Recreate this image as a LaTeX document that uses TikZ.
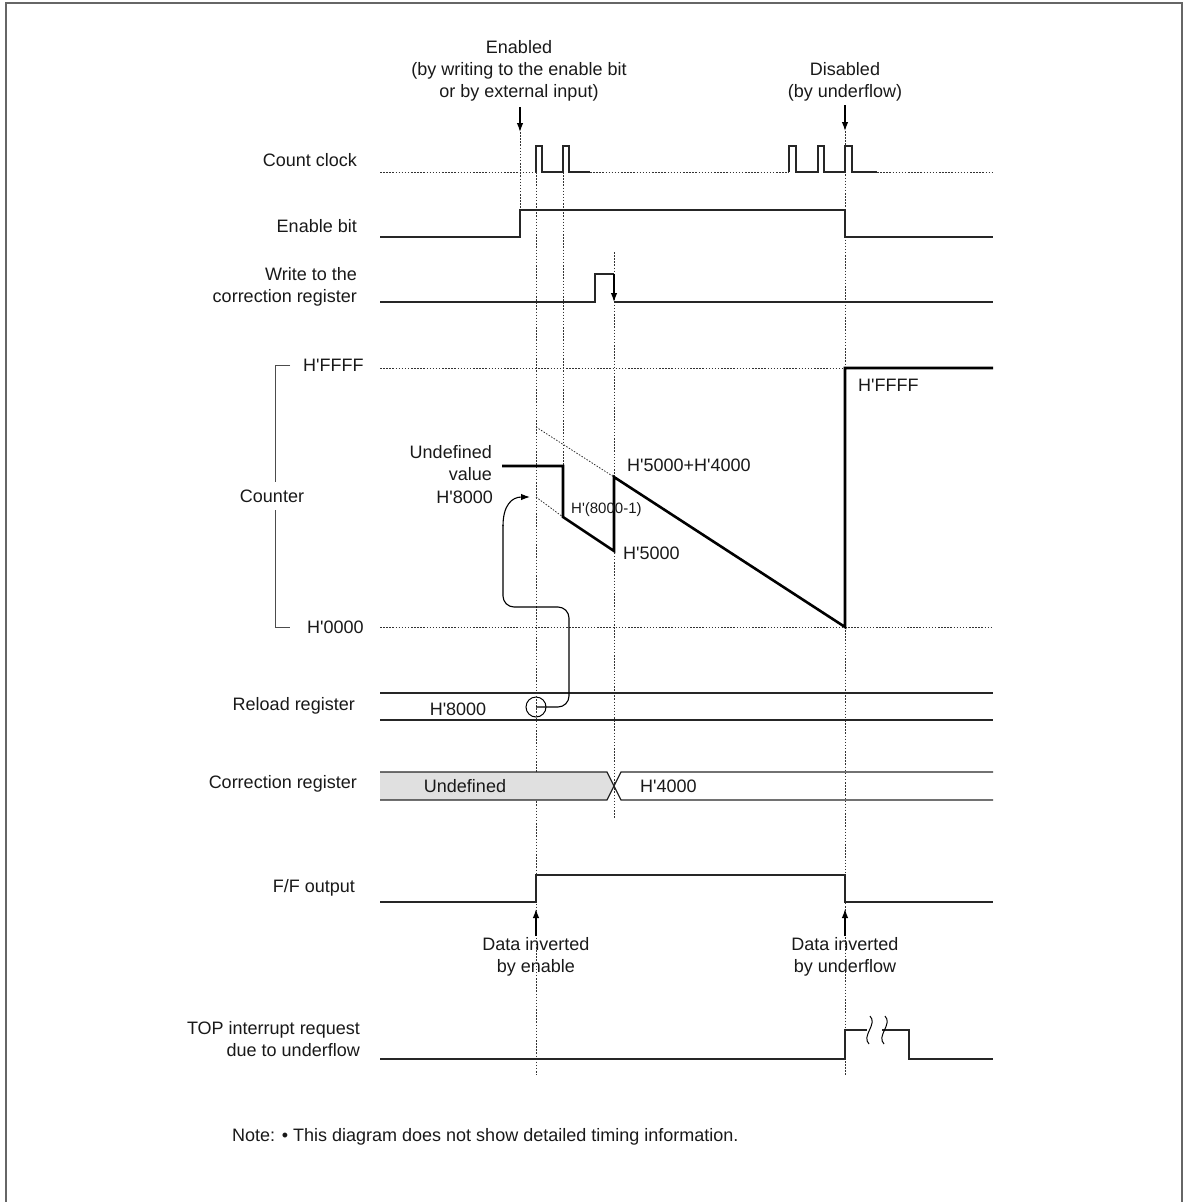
\documentclass[tikz,border=0pt]{standalone}
\usepackage{fontspec}
\setmainfont{Liberation Sans}[Ligatures=TeXOff]
\usetikzlibrary{arrows.meta}
\begin{document}
\begin{tikzpicture}[x=1pt,y=-1pt,
  sig/.style={line width=1.3pt, black!85},
  cnt/.style={line width=2.6pt, black, line join=miter},
  dotl/.style={line width=0.9pt, dash pattern=on 1.5pt off 1.6pt, black!80},
  lbl/.style={font=\fontsize{18}{22}\selectfont, anchor=east, align=right, inner sep=0pt, text=black!90},
  txt/.style={font=\fontsize{18}{22}\selectfont, align=center, inner sep=0pt, text=black!90},
  arr/.style={line width=1.2pt, black, -{Latex[length=9pt,width=6.5pt]}},
  ]
\useasboundingbox (0,0) rectangle (1185,1202);
% frame
\draw[line width=2pt, black!60] (6,1215) -- (6,3) -- (1182,3) -- (1182,1215);

% ---- labels on the left
\node[lbl] (lclk) at (357,160) {Count clock};
\node[lbl] (len) at (357,226) {Enable bit};
\node[lbl] (lwr) at (357,287) {Write to the\\correction register};
\node[lbl] (lrel) at (355,706) {Reload register};
\node[lbl] (lcor) at (357,784) {Correction register};
\node[lbl] (lff) at (355,888) {F/F output};
\node[lbl] (ltop) at (360,1039) {TOP interrupt request\\due to underflow};

% ---- top annotations
\node[txt] (nen) at (519,71) {Enabled\\(by writing to the enable bit\\or by external input)};
\node[txt] (ndis) at (845,81.5) {Disabled\\(by underflow)};
\coordinate (enA) at (520,107);
\coordinate (enB) at (520,132);
\coordinate (diA) at (845,105);
\coordinate (diB) at (845,131);
\draw[arr] (enA) -- (enB);
\draw[arr] (diA) -- (diB);

% ---- vertical dotted guide lines
\draw[dotl] (520,132) -- (520,210);
\draw[dotl] (536,172) -- (536,1075);
\draw[dotl] (563,172) -- (563,466);
\draw[dotl] (614,252) -- (614,818);
\draw[dotl] (845,131) -- (845,1075);

% ---- count clock
\draw[dotl] (380,172) -- (536,172);
\draw[sig] (536,172) -- (536,146) -- (542,146) -- (542,172) -- (563,172) -- (563,146) -- (569,146) -- (569,172) -- (590,172);
\draw[dotl] (590,172) -- (789,172);
\draw[sig] (789,172) -- (789,146) -- (796,146) -- (796,172) -- (818,172) -- (818,146) -- (824,146) -- (824,172) -- (845,172) -- (845,146) -- (852,146) -- (852,172) -- (877,172);
\draw[dotl] (877,172) -- (993,172);

% ---- enable bit
\draw[sig] (380,237) -- (520,237) -- (520,210) -- (845,210) -- (845,237) -- (993,237);

% ---- write to correction register
\draw[sig] (380,302) -- (595,302) -- (595,274) -- (614,274);
\coordinate (wrA) at (614,274);
\coordinate (wrB) at (614,302);
\draw[arr] (wrA) -- (wrB);
\draw[sig] (614,302) -- (993,302);

% ---- counter
\draw[dotl] (380,368) -- (845,368);
\draw[dotl] (380,627) -- (993,627);
\draw[line width=1pt, black!70] (290,365) -- (275,365) -- (275,482);
\draw[line width=1pt, black!70] (275,510) -- (275,627) -- (290,627);
\node[txt, anchor=west] (hff) at (303,365) {H'FFFF};
\node[txt, anchor=west] (h00) at (307,627) {H'0000};
\node[txt] (lcnt) at (272,496) {Counter};
\draw[line width=0.8pt, dash pattern=on 1.5pt off 1.5pt, black!80] (536,427) -- (614,477);
\draw[line width=0.8pt, dash pattern=on 1.5pt off 1.5pt, black!80] (536,497) -- (563,517);
\draw[cnt] (502,466) -- (563,466) -- (563,517) -- (614,551) -- (614,477) -- (845,627) -- (845,368) -- (993,368);
\node[txt, anchor=east, align=right] (nund) at (492,463) {Undefined\\value};
\node[txt, anchor=east] (n8000) at (493,497) {H'8000};
\node[txt, anchor=west] (nsum) at (627,465) {H'5000+H'4000};
\node[txt, anchor=west, font=\fontsize{15}{18}\selectfont] (nm1) at (571,510) {H'(8000-1)};
\node[txt, anchor=west] (n5000) at (623,553) {H'5000};
\node[txt, anchor=west] (nff2) at (858,385) {H'FFFF};

% ---- reload register
\draw[sig] (380,693) -- (993,693);
\draw[sig] (380,720) -- (993,720);
\node[txt] (r8000) at (458,709) {H'8000};
\node[draw, circle, line width=1pt, minimum size=20pt, inner sep=0pt] (rc) at (536,707) {};
\draw[line width=1.1pt, black, rounded corners=11pt] (rc.center) -- (569,707) -- (569,607) -- (503,607) -- (503,525);
\draw[line width=1.1pt, black, -{Latex[length=9pt,width=6.5pt]}] (503,526) .. controls (503,505) and (512,497) .. (530,497);

% ---- correction register
\fill[black!12] (380,772) -- (607,772) -- (614,786) -- (607,800) -- (380,800) -- cycle;
\draw[sig] (380,772) -- (607,772) -- (621,800) -- (993,800);
\draw[sig] (380,800) -- (607,800) -- (621,772) -- (993,772);
\node[txt] (cund) at (465,786) {Undefined};
\node[txt, anchor=west] (c4000) at (640,786) {H'4000};

% ---- F/F output
\draw[sig] (380,902) -- (536,902) -- (536,875) -- (845,875) -- (845,902) -- (993,902);
\coordinate (ffA) at (536,936);
\coordinate (ffB) at (536,909);
\coordinate (ffC) at (845,936);
\coordinate (ffD) at (845,909);
\draw[arr] (ffA) -- (ffB);
\draw[arr] (ffC) -- (ffD);
\node[txt] (dien) at (536,957) {Data inverted\\by enable};
\node[txt] (diun) at (845,957) {Data inverted\\by underflow};

% ---- TOP interrupt
\draw[sig] (380,1059) -- (845,1059) -- (845,1030) -- (867,1030);
\draw[sig] (882,1030) -- (909,1030) -- (909,1059) -- (993,1059);
\draw[line width=1pt, black] (870,1016) .. controls (878,1024) and (861,1036) .. (869,1044);
\draw[line width=1pt, black] (885,1016) .. controls (893,1024) and (876,1036) .. (884,1044);

% ---- note
\node[txt, anchor=west] (note) at (232,1137) {Note: \textbullet\ This diagram does not show detailed timing information.};
\end{tikzpicture}
\end{document}
